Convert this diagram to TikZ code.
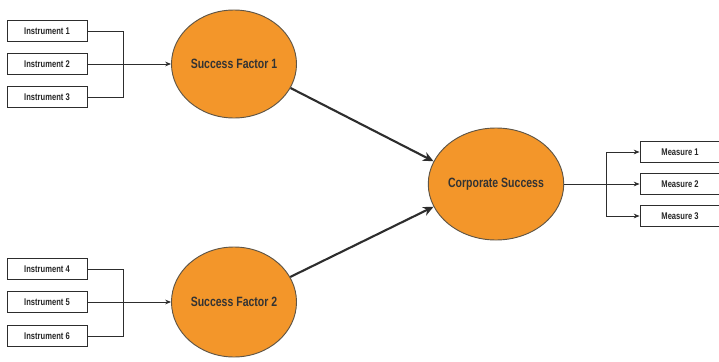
\documentclass[tikz,border=0pt]{standalone}
\usepackage{fontspec}
\newfontfamily\narrowfont[FakeStretch=0.78]{Liberation Sans}
\usetikzlibrary{positioning}
\usetikzlibrary{arrows.meta}
\usetikzlibrary{shapes.geometric}
\definecolor{factororange}{RGB}{243,150,42}
\definecolor{rimgrey}{RGB}{95,85,70}
\definecolor{linegrey}{RGB}{45,45,45}
\tikzset{
    itembox/.style={draw=linegrey, line width=0.7pt, minimum width=2.4cm, minimum height=0.64cm, inner sep=0pt, font=\narrowfont\bfseries\fontsize{8.3}{9}\selectfont, text=black!85},
    factor/.style={ellipse, draw=rimgrey, line width=0.8pt, fill=factororange, inner sep=0pt, font=\narrowfont\bfseries\fontsize{11.5}{12}\selectfont, text=black!80},
    link/.style={draw=linegrey, line width=0.7pt},
    thin arrow/.style={link, -{Stealth[length=5pt,width=4pt]}},
    bold arrow/.style={draw=linegrey, line width=1.8pt, -{Stealth[length=9pt,width=8pt]}}
}
\begin{document}
\begin{tikzpicture}[x=0.03cm,y=-0.03cm]
        \useasboundingbox (0,0) rectangle (719,362);
        % instruments of the first factor
        \node[itembox] (i1) at (47,31) {Instrument 1};
        \node[itembox] (i2) at (47,64) {Instrument 2};
        \node[itembox] (i3) at (47,97) {Instrument 3};
        % instruments of the second factor
        \node[itembox] (i4) at (47,269) {Instrument 4};
        \node[itembox] (i5) at (47,302) {Instrument 5};
        \node[itembox] (i6) at (47,336) {Instrument 6};
        % factors
        \node[factor, minimum width=3.75cm, minimum height=3.24cm] (sf1) at (234,64) {Success Factor 1};
        \node[factor, minimum width=3.75cm, minimum height=3.3cm] (sf2) at (234,302) {Success Factor 2};
        \node[factor, minimum width=3.66cm, minimum height=3.36cm] (cs) at (496,184) {Corporate Success};
        % measures
        \node[itembox] (m1) at (680,152) {Measure 1};
        \node[itembox] (m2) at (680,184) {Measure 2};
        \node[itembox] (m3) at (680,216) {Measure 3};
        \coordinate (fork1) at (123,64);
        \coordinate (fork2) at (123,302);
        \coordinate (mfork) at (606,184);
        \draw[link] (i1.east) -| (fork1);
        \draw[link] (i3.east) -| (fork1);
        \draw[thin arrow] (i2.east) -- (sf1.west);
        \draw[link] (i4.east) -| (fork2);
        \draw[link] (i6.east) -| (fork2);
        \draw[thin arrow] (i5.east) -- (sf2.west);
        \draw[bold arrow] (sf1.-23) -- (cs.160);
        \draw[bold arrow] (sf2.24) -- (cs.-160);
        \draw[link] (cs.east) -- (mfork);
        \draw[thin arrow] (mfork) |- (m1.west);
        \draw[thin arrow] (mfork) -- (m2.west);
        \draw[thin arrow] (mfork) |- (m3.west);
\end{tikzpicture}
\end{document}
